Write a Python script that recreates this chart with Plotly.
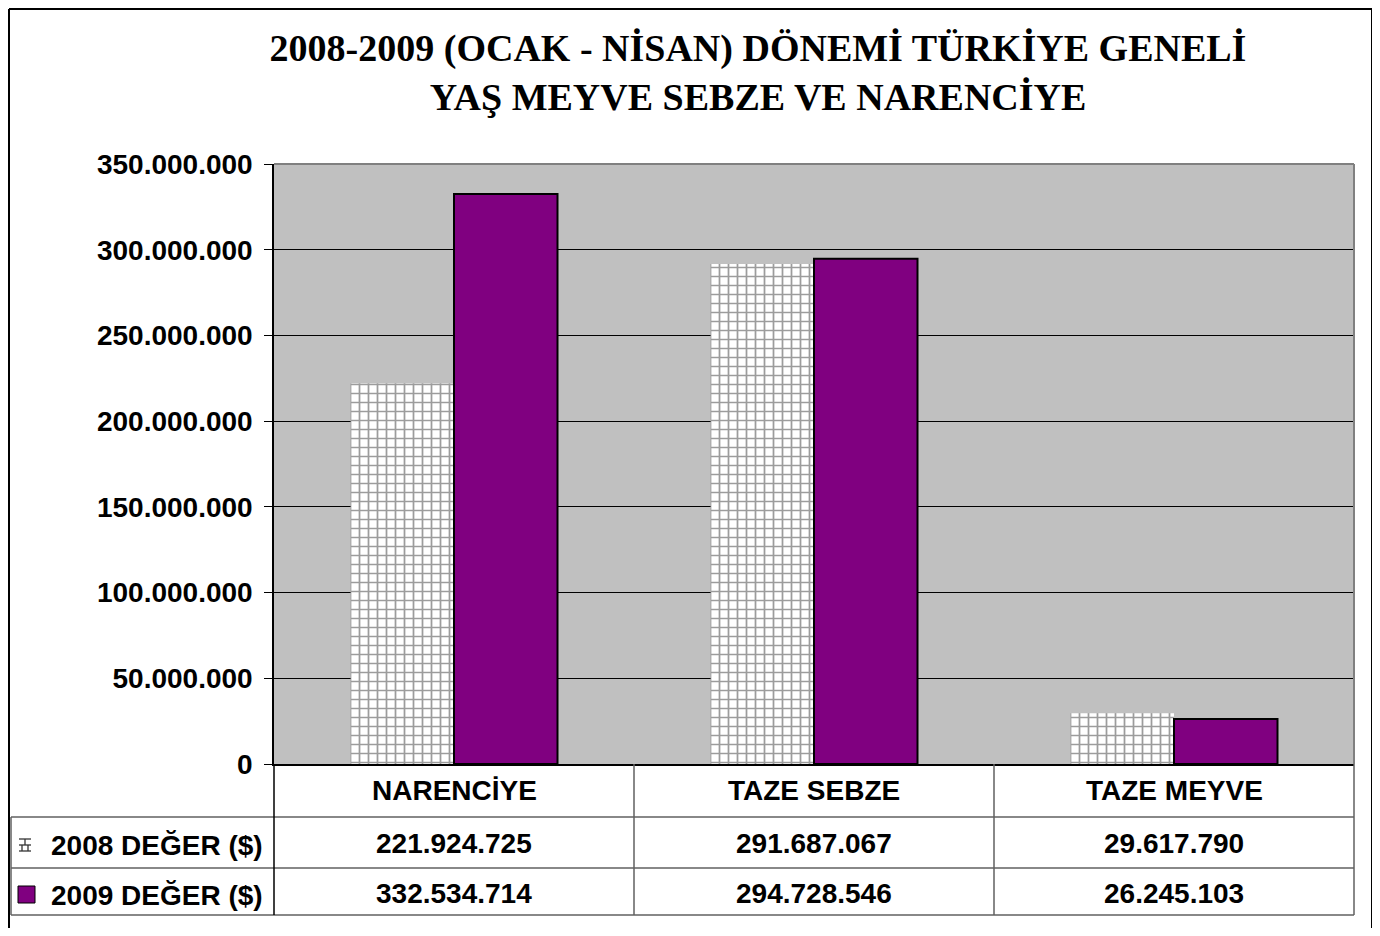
import plotly.graph_objects as go

categories = ["NARENCİYE", "TAZE SEBZE", "TAZE MEYVE"]
values_2008 = [221924725, 291687067, 29617790]
values_2009 = [332534714, 294728546, 26245103]
series_names = ["2008 DEĞER ($)", "2009 DEĞER ($)"]
title_lines = ["2008-2009 (OCAK - NİSAN) DÖNEMİ TÜRKİYE GENELİ", "YAŞ MEYVE SEBZE VE NARENCİYE"]
y_ticks = [0, 50000000, 100000000, 150000000, 200000000, 250000000, 300000000, 350000000]

OFF = 8  # page body offset
W, H = 1372, 920
SL, SR, ST, SB = 274, 1354, 164, 764
L, T = SL - OFF, ST - OFF
R = W - (SR - OFF)
B = H - (SB - OFF)
PW, PH = W - L - R, H - T - B


def px(x):  # screen x -> paper
    return (x - SL) / PW


def py(y):  # screen y -> paper
    return (SB - y) / PH


def fmt(v):
    return f"{v:,}".replace(",", ".")


fig = go.Figure()
fig.add_trace(go.Bar(
    x=categories, y=values_2008, name=series_names[0],
    marker=dict(color="white", line=dict(width=0),
                pattern=dict(shape="+", fgcolor="#3a3a3a", bgcolor="white", size=9, solidity=0.35)),
))
fig.add_trace(go.Bar(
    x=categories, y=values_2009, name=series_names[1],
    marker=dict(color="#800080", line=dict(color="black", width=2)),
))

sans = "Liberation Sans"
fig.update_layout(
    width=W, height=H,
    margin=dict(l=L, r=R, t=T, b=B),
    paper_bgcolor="white", plot_bgcolor="#C0C0C0",
    barmode="group", bargap=0.425, bargroupgap=0,
    showlegend=False,
    separators=",.",
    title=dict(text="<b>" + "<br>".join(title_lines) + "</b>",
               font=dict(family="Liberation Serif", size=38, color="black"),
               x=(758 - OFF) / W, xref="container", xanchor="center",
               y=1 - (61 - OFF) / H, yref="container", yanchor="middle"),
    font=dict(family=sans, color="black"),
)
fig.update_yaxes(
    range=[0, 350000000], tickvals=y_ticks, tickformat=",d",
    showgrid=True, gridcolor="black", gridwidth=1,
    showline=True, linecolor="black", linewidth=1.5,
    ticks="outside", ticklen=8, tickcolor="black",
    tickfont=dict(family=sans, size=28, color="black", weight="bold"),
    ticklabelstandoff=6, zeroline=False,
)
fig.update_xaxes(
    showticklabels=False, showline=True, linecolor="black", linewidth=1.5,
    ticks="", showgrid=False,
)

shapes = []
shapes.append(dict(type="line", xref="paper", yref="paper", x0=0, x1=1, y0=1, y1=1,
                   line=dict(color="#808080", width=2)))
shapes.append(dict(type="line", xref="paper", yref="paper", x0=1, x1=1, y0=0, y1=1,
                   line=dict(color="#808080", width=2)))
border = dict(color="black", width=2)
shapes.append(dict(type="line", xref="paper", yref="paper", x0=px(9), x1=px(1372), y0=py(9), y1=py(9), line=border))
shapes.append(dict(type="line", xref="paper", yref="paper", x0=px(9), x1=px(9), y0=py(9), y1=py(940), line=border))
shapes.append(dict(type="line", xref="paper", yref="paper", x0=px(1372), x1=px(1372), y0=py(9), y1=py(940), line=border))
for yy in [817, 868, 915]:
    shapes.append(dict(type="line", xref="paper", yref="paper", x0=px(11), x1=1, y0=py(yy), y1=py(yy),
                       line=dict(color="#606060", width=1.5)))
shapes.append(dict(type="line", xref="paper", yref="paper", x0=px(11), x1=px(11), y0=py(817), y1=py(915),
                   line=dict(color="#606060", width=1.5)))
for i in range(len(categories) + 1):
    xx = i / len(categories)
    shapes.append(dict(type="line", xref="paper", yref="paper", x0=xx, x1=xx, y0=0, y1=py(915),
                       line=dict(color="black" if i == 0 else "#606060", width=1.5)))
shapes.append(dict(type="rect", xref="paper", yref="paper", x0=px(18), x1=px(35), y0=py(903), y1=py(886),
                   fillcolor="#800080", line=dict(color="black", width=1)))
for (a, b, c, d) in [(19, 839, 31, 839), (19, 845, 31, 845), (19, 851, 31, 851), (25, 839, 25, 845),
                     (22, 845, 22, 851), (28, 845, 28, 851)]:
    shapes.append(dict(type="line", xref="paper", yref="paper", x0=px(a), x1=px(c), y0=py(b), y1=py(d),
                       line=dict(color="#333333", width=1.3)))
fig.update_layout(shapes=shapes)

ann = []
tf = dict(family=sans, size=28, color="black")
for i, c in enumerate(categories):
    ann.append(dict(x=c, xref="x", y=py(790), yref="paper", text=f"<b>{c}</b>", showarrow=False,
                    font=tf, xanchor="center", yanchor="middle"))
    ann.append(dict(x=c, xref="x", y=py(843), yref="paper", text=f"<b>{fmt(values_2008[i])}</b>",
                    showarrow=False, font=tf, xanchor="center", yanchor="middle"))
    ann.append(dict(x=c, xref="x", y=py(893), yref="paper", text=f"<b>{fmt(values_2009[i])}</b>",
                    showarrow=False, font=tf, xanchor="center", yanchor="middle"))
for name, yy in zip(series_names, [845, 895]):
    ann.append(dict(x=px(265), xref="paper", y=py(yy), yref="paper", text=f"<b>{name}</b>",
                    showarrow=False, font=tf, xanchor="right", yanchor="middle"))
fig.update_layout(annotations=ann)

fig.write_html("out.html")
